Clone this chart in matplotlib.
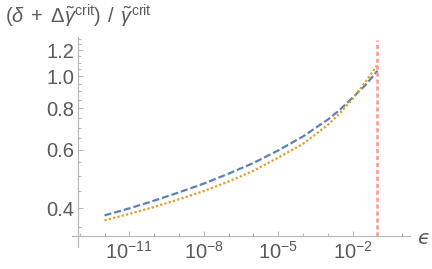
import numpy as np
import matplotlib
matplotlib.use("Agg")
import matplotlib.pyplot as plt
from matplotlib.ticker import FixedLocator, FixedFormatter, NullFormatter

# ---- data ----
eps = [1e-12, 1e-11, 1e-10, 1e-9, 1e-8, 1e-7, 1e-6, 1e-5, 1e-4, 1e-3,
       10**-2.5, 1e-2, 10**-1.5, 1e-1]
ratio_blue = [0.380, 0.399, 0.421, 0.446, 0.474, 0.508, 0.547, 0.597,
              0.658, 0.740, 0.794, 0.863, 0.938, 1.038]
ratio_orange = [0.367, 0.384, 0.403, 0.425, 0.450, 0.481, 0.518, 0.568,
                0.625, 0.713, 0.776, 0.855, 0.957, 1.084]
eps_crit = 0.1

x_major = [1e-11, 1e-8, 1e-5, 1e-2]
x_major_labels = [r"$10^{-11}$", r"$10^{-8}$", r"$10^{-5}$", r"$10^{-2}$"]
x_minor = [1e-13, 1e-12, 1e-10, 1e-9, 1e-7, 1e-6, 1e-4, 1e-3, 1e-1, 1e0]
y_major = [0.4, 0.6, 0.8, 1.0, 1.2]
y_major_labels = ["0.4", "0.6", "0.8", "1.0", "1.2"]
y_minor = [0.35, 0.45, 0.5, 0.55, 0.65, 0.7, 0.75, 0.85, 0.9, 0.95,
           1.05, 1.1, 1.15, 1.25, 1.3]

# ---- style ----
plt.rcParams['font.family'] = ['Liberation Sans', 'DejaVu Sans']
plt.rcParams['mathtext.fontset'] = 'custom'
plt.rcParams['mathtext.rm'] = 'Liberation Sans'
plt.rcParams['mathtext.it'] = 'Liberation Sans:italic'
plt.rcParams['mathtext.bf'] = 'Liberation Sans:bold'

W, H = 432, 269
fig = plt.figure(figsize=(W / 100, H / 100), dpi=100)
L, R, T, B = 72, 410, 37, 247
ax = fig.add_axes([L / W, 1 - B / H, (R - L) / W, (B - T) / H])
ax.set_xscale('log')
ax.set_yscale('log')
ax.set_xlim(10**-13.31, 10**0.31)
ax.set_ylim(0.305, 1.314)

axis_col = '#b4b4b4'
text_col = '#5a5a5a'
fs = 14.5
for s in ['top', 'right']:
    ax.spines[s].set_visible(False)
ax.spines['left'].set_position(('data', 10**-13.067))
ax.spines['bottom'].set_position(('data', 0.330))
for s in ['left', 'bottom']:
    ax.spines[s].set_color(axis_col)
    ax.spines[s].set_linewidth(0.8)

ax.xaxis.set_major_locator(FixedLocator(x_major))
ax.xaxis.set_major_formatter(FixedFormatter(x_major_labels))
ax.xaxis.set_minor_locator(FixedLocator(x_minor))
ax.xaxis.set_minor_formatter(NullFormatter())
ax.yaxis.set_major_locator(FixedLocator(y_major))
ax.yaxis.set_major_formatter(FixedFormatter(y_major_labels))
ax.yaxis.set_minor_locator(FixedLocator(y_minor))
ax.yaxis.set_minor_formatter(NullFormatter())

ax.tick_params(which='both', direction='in', color=axis_col, width=0.7,
               labelcolor=text_col, labelsize=fs)
ax.tick_params(which='major', length=3.5)
ax.tick_params(which='minor', length=2.0)
ax.tick_params(axis='y', pad=2.5)
ax.tick_params(axis='x', pad=4)

ax.plot(eps, ratio_blue, color='#5E81B5', lw=1.6, ls=(0, (3.2, 1.3)),
        dash_capstyle='butt')
ax.plot(eps, ratio_orange, color='#E19C24', lw=1.6, ls=(0, (1.0, 1.0)),
        dash_capstyle='butt')

# vertical critical line spanning plot range
ylo, yhi = ax.get_ylim()
def yfrac(v):
    return (np.log10(v) - np.log10(ylo)) / (np.log10(yhi) - np.log10(ylo))
ax.axvline(eps_crit, ymin=yfrac(0.330), ymax=yfrac(1.287), color='#FF9EA2',
           lw=2.0, ls=(0, (1.5, 1.0)))

fig.text(78 / W, 1 - 16 / H,
         r"$(\delta\;+\;\Delta\tilde{\gamma}^{\mathrm{crit}})\;\,/\;\,\tilde{\gamma}^{\mathrm{crit}}$",
         ha='center', va='center', fontsize=fs, color=text_col)
fig.text(424 / W, 1 - 239 / H, "\u03f5", ha='center', va='center',
         fontsize=fs, color=text_col, family='DejaVu Sans', style='italic')

fig.savefig('out.png', dpi=100)
